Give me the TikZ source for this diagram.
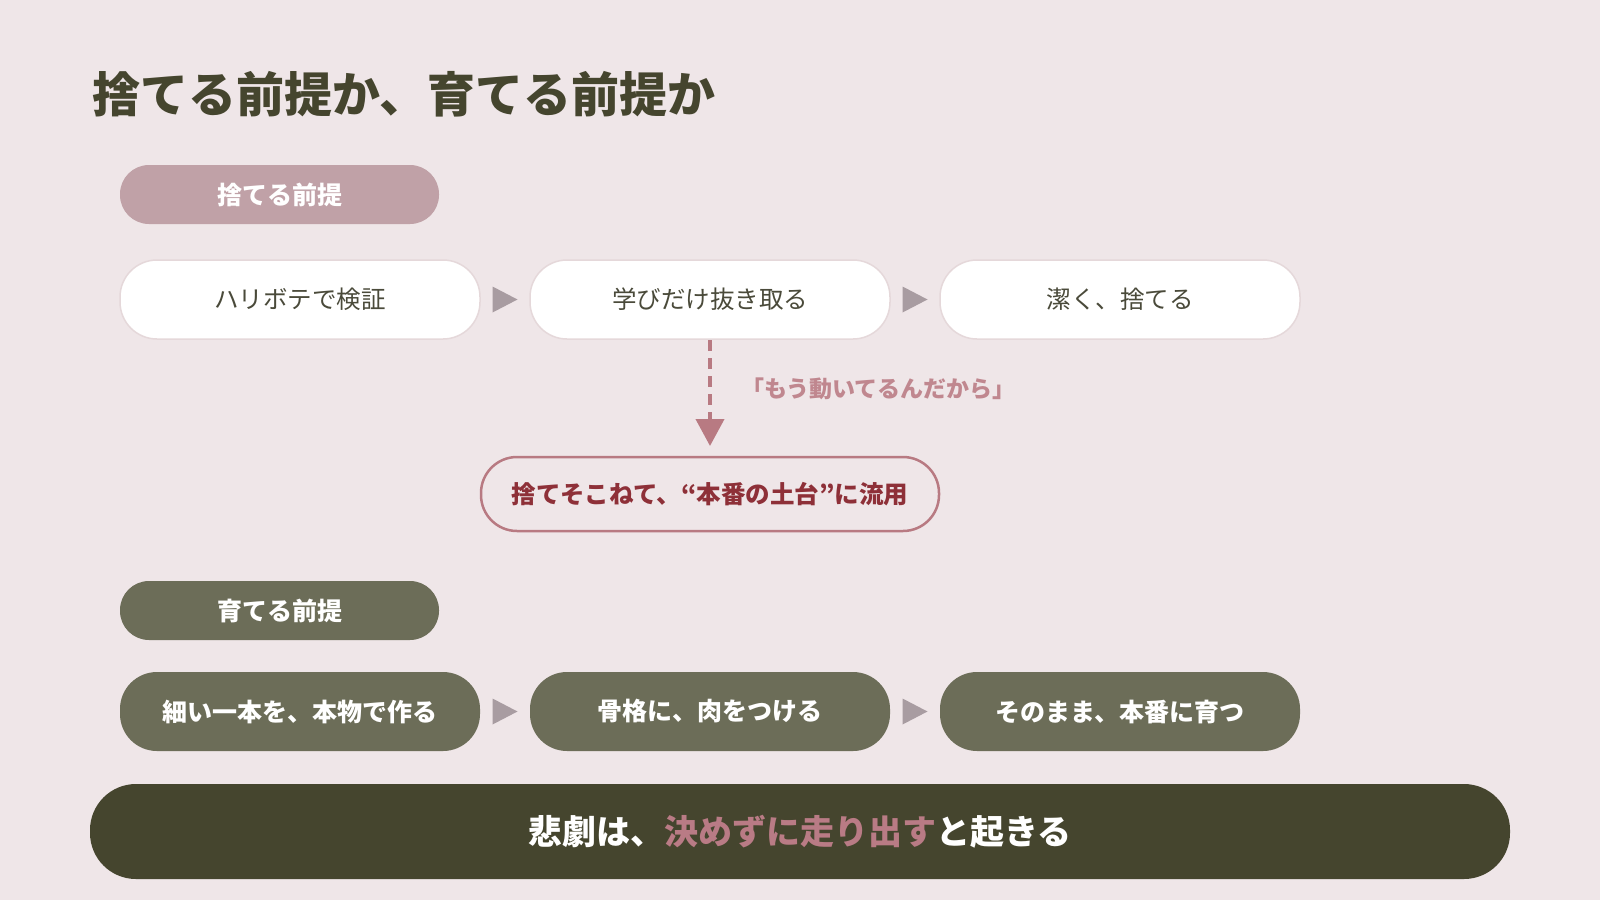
\documentclass[tikz,border=0pt]{standalone}
\usepackage{fontspec}
\setmainfont{Noto Sans CJK JP}
\usetikzlibrary{arrows.meta,calc}
\definecolor{bgc}{HTML}{EFE6E8}
\definecolor{titlec}{HTML}{45452E}
\definecolor{hdrone}{HTML}{C0A1A7}
\definecolor{hdrtwo}{HTML}{6C6D58}
\definecolor{boxline}{HTML}{E5D8DA}
\definecolor{boxtext}{HTML}{4A4A3A}
\definecolor{tricol}{HTML}{A89CA1}
\definecolor{dashc}{HTML}{B87A82}
\definecolor{labelc}{HTML}{C0878F}
\definecolor{alttext}{HTML}{8E3038}
\definecolor{barc}{HTML}{45452E}
\definecolor{pinkc}{HTML}{B97B85}
\begin{document}
\begin{tikzpicture}[x=1pt,y=-1pt,
  every node/.style={inner sep=0pt,outer sep=0pt},
  hdrpill/.style={minimum width=319pt,minimum height=59pt,rounded corners=29pt,
    font=\fontsize{25}{30}\selectfont\bfseries,text=white},
  litebox/.style={draw=boxline,line width=1.5pt,fill=white,minimum width=360pt,
    minimum height=79pt,rounded corners=37pt,text=boxtext,
    font=\fontsize{24.5}{30}\selectfont},
  darkbox/.style={fill=hdrtwo,minimum width=360pt,minimum height=79pt,
    rounded corners=37pt,text=white,font=\fontsize{25}{30}\selectfont\bfseries},
  altbox/.style={draw=dashc,line width=2.5pt,minimum width=458pt,minimum height=74pt,
    rounded corners=36pt,text=alttext,font=\fontsize{24.5}{30}\selectfont\bfseries},
  flowtri/.style={fill=tricol}
]
\fill[bgc] (0,0) rectangle (1600,900);
\useasboundingbox (0,0) rectangle (1600,900);

% title
\node[anchor=west,text=titlec,font=\fontsize{48}{58}\selectfont\bfseries] (title) at (92,94)
  {捨てる前提か、育てる前提か};

% first section
\node[hdrpill,fill=hdrone] (h1) at (279.5,194.5) {捨てる前提};
\node[litebox] (a1) at (300,299.5) {\raisebox{-2pt}{ハリボテで検証}};
\node[litebox] (a2) at (710,299.5) {\raisebox{-2pt}{学びだけ抜き取る}};
\node[litebox] (a3) at (1120,299.5) {\raisebox{-2pt}{潔く、捨てる}};

\node[altbox] (alt) at (710,494) {捨てそこねて、“本番の土台”に流用};

\draw[dashc,line width=4pt,dash pattern=on 11pt off 7pt,
  -{Triangle[width=28pt,length=27pt]},shorten >=11pt,shorten <=1pt] (a2.south) -- (alt.north);
\node[anchor=west,text=labelc,font=\fontsize{23}{28}\selectfont\bfseries] (lbl) at (741,389)
  {「もう動いてるんだから」};

% second section
\node[hdrpill,fill=hdrtwo] (h2) at (279.5,610.5) {育てる前提};
\node[darkbox] (b1) at (300,711.5) {\raisebox{-2pt}{細い一本を、本物で作る}};
\node[darkbox] (b2) at (710,711.5) {\raisebox{-2pt}{骨格に、肉をつける}};
\node[darkbox] (b3) at (1120,711.5) {\raisebox{-2pt}{そのまま、本番に育つ}};

% flow triangles
\foreach \p/\q/\r in {a1/a2/ta,a2/a3/tb,b1/b2/tc,b2/b3/td}{
  \path (\p.east) -- (\q.west) coordinate[midway] (\r);
  \fill[flowtri] ($(\r)+(-12.5,-13)$) -- ($(\r)+(12.5,0)$) -- ($(\r)+(-12.5,13)$) -- cycle;
}

% bottom bar
\node[fill=barc,minimum width=1420pt,minimum height=95pt,rounded corners=46pt,
  text=white,font=\fontsize{34}{40}\selectfont\bfseries] (bar) at (800,831.5)
  {悲劇は、{\color{pinkc}決めずに走り出す}と起きる};
\end{tikzpicture}
\end{document}
